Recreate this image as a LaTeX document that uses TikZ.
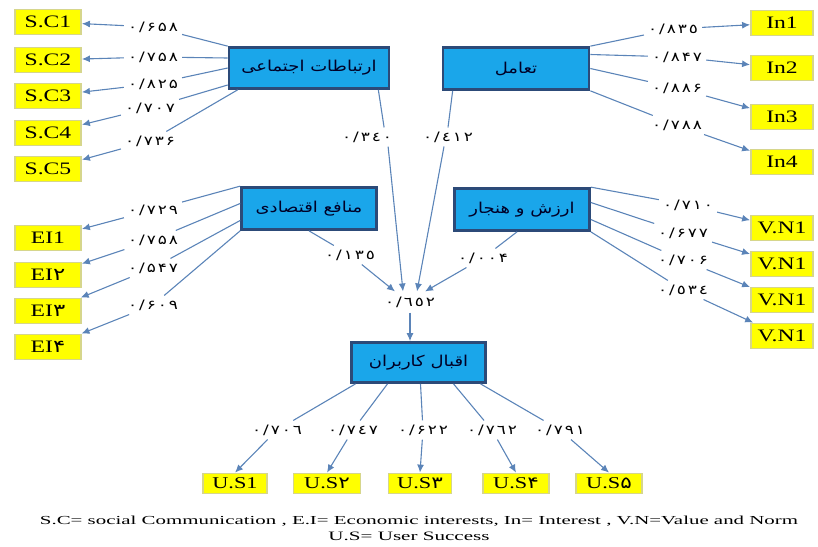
\documentclass[tikz,border=0pt]{standalone}
\usepackage{fontspec}
\usepackage{graphicx}
\setmainfont{Liberation Serif}
\TeXXeTstate=1
\newfontfamily\arabicfont[Script=Arabic,FakeStretch=1.2]{DejaVu Sans}
\newfontfamily\numfont[FakeStretch=1.3,LetterSpace=15]{DejaVu Sans}
\newfontfamily\digfont[FakeStretch=1.3]{DejaVu Sans}
\newfontfamily\boxfont[FakeStretch=1.35]{Liberation Serif}
\usetikzlibrary{arrows.meta}
\definecolor{boxblue}{HTML}{1AA6EA}
\definecolor{boxborder}{HTML}{2C4A78}
\definecolor{yel}{HTML}{FFFF00}
\definecolor{yelborder}{HTML}{D6D68C}
\definecolor{arrowblue}{HTML}{5B84B8}
\newcommand{\pd}[1]{{\digfont #1}}
\begin{document}
\begin{tikzpicture}[x=1pt,y=-1pt,
  latent/.style={draw=boxborder, fill=boxblue, line width=2.7pt, inner sep=0pt,
    font=\arabicfont\fontsize{15}{17}\selectfont, text=black!85!blue},
  ind/.style={draw=yelborder, fill=yel, line width=1.8pt, minimum width=66pt,
    minimum height=25pt, inner sep=0pt, font=\boxfont\fontsize{17.5}{19}\selectfont},
  usind/.style={ind, minimum height=20pt, font=\boxfont\fontsize{16.5}{18}\selectfont},
  lbl/.style={font=\numfont\fontsize{13}{15}\selectfont, inner sep=4pt},
  ln/.style={draw=arrowblue, line width=1.1pt},
  arr/.style={ln, -{Latex[length=8pt,width=7pt]}}]
\useasboundingbox (0,0) rectangle (818,546);

% latent boxes
\node[latent, minimum width=160pt, minimum height=41pt] (social) at (309,68) {\beginR ارتباطات اجتماعی\endR};
\node[latent, minimum width=146pt, minimum height=42pt] (inter) at (516,68.5) {\beginR تعامل\endR};
\node[latent, minimum width=135pt, minimum height=42pt] (econ) at (309,208.5) {\beginR منافع اقتصادی\endR};
\node[latent, minimum width=135pt, minimum height=42pt] (value) at (522,209.5) {\beginR ارزش و هنجار\endR};
\node[latent, minimum width=134pt, minimum height=40pt] (user) at (418.5,362.5) {\beginR اقبال کاربران\endR};

% indicators
\node[ind] (sc1) at (48,22) {S.C1};
\node[ind] (sc2) at (48,60) {S.C2};
\node[ind] (sc3) at (48,96) {S.C3};
\node[ind] (sc4) at (48,133) {S.C4};
\node[ind] (sc5) at (48,169) {S.C5};
\node[ind, minimum width=62pt] (in1) at (782,23) {In1};
\node[ind, minimum width=62pt] (in2) at (782,68) {In2};
\node[ind, minimum width=62pt] (in3) at (782,117) {In3};
\node[ind, minimum width=62pt] (in4) at (782,162) {In4};
\node[ind] (ei1) at (48,238) {EI1};
\node[ind] (ei2) at (48,275) {EI\pd{۲}};
\node[ind] (ei3) at (48,311) {EI\pd{۳}};
\node[ind] (ei4) at (48,347) {EI\pd{۴}};
\node[ind, minimum width=62pt] (vn1) at (782,228) {V.N1};
\node[ind, minimum width=62pt] (vn2) at (782,264) {V.N1};
\node[ind, minimum width=62pt] (vn3) at (782,300) {V.N1};
\node[ind, minimum width=62pt] (vn4) at (782,336) {V.N1};
\node[usind, minimum width=64pt] (us1) at (235,483.5) {U.S1};
\node[usind, minimum width=67pt] (us2) at (327,483.5) {U.S\pd{۲}};
\node[usind, minimum width=63pt] (us3) at (420,483.5) {U.S\pd{۳}};
\node[usind, minimum width=66pt] (us4) at (516,483.5) {U.S\pd{۴}};
\node[usind, minimum width=66pt] (us5) at (609,483.5) {U.S\pd{۵}};

% labels
\node[lbl] (a1) at (153,27) {۰/۶۵۸};
\node[lbl] (a2) at (153,57) {۰/۷۵۸};
\node[lbl] (a3) at (153,84) {۰/۸۲۵};
\node[lbl] (a4) at (150,108) {۰/۷۰۷};
\node[lbl] (a5) at (150,141) {۰/۷۳۶};
\node[lbl] (b1) at (673,29) {۰/۸۳٥};
\node[lbl] (b2) at (677,57) {۰/۸۴۷};
\node[lbl] (b3) at (677,88) {۰/۸۸۶};
\node[lbl] (b4) at (677,125) {۰/۷۸۸};
\node[lbl] (c1) at (153,210) {۰/۷۲۹};
\node[lbl] (c2) at (153,240) {۰/۷۵۸};
\node[lbl] (c3) at (153,268) {۰/۵۴۷};
\node[lbl] (c4) at (153,305) {۰/۶۰۹};
\node[lbl] (d1) at (688,205) {۰/۷۱۰};
\node[lbl] (d2) at (683,233) {۰/۶۷۷};
\node[lbl] (d3) at (683,260) {۰/۷۰۶};
\node[lbl] (d4) at (683,290) {٠/٥٣٤};
\node[lbl] (l340) at (367,137) {٠/٣٤٠};
\node[lbl] (l412) at (448,137) {٠/٤١٢};
\node[lbl] (l135) at (350,255) {٠/١٣٥};
\node[lbl] (l004) at (483,258) {۰/۰۰۴};
\node[lbl, inner sep=5pt] (c652) at (410,302) {٠/٦٥٢};
\node[lbl] (e1) at (277,430) {٠/٧٠٦};
\node[lbl] (e2) at (353,430) {٠/٧٤٧};
\node[lbl] (e3) at (423,430) {۰/۶۲۲};
\node[lbl] (e4) at (492,430) {٠/٧٦٢};
\node[lbl] (e5) at (560,430) {٠/٧٩١};

% social communication
\draw[ln] (social.north west) -- (a1);
\draw[arr] (a1) -- (sc1);
\draw[ln] ([yshift=10pt]social.west) -- (a2);
\draw[arr] (a2) -- (sc2);
\draw[ln] (social.west) -- (a3);
\draw[arr] (a3) -- (sc3);
\draw[ln] ([yshift=-17pt]social.west) -- (a4);
\draw[arr] (a4) -- (sc4);
\draw[ln] ([xshift=10pt]social.south west) -- (a5);
\draw[arr] (a5) -- (sc5);

% interaction
\draw[ln] (inter.north east) -- (b1);
\draw[arr] (b1) -- (in1);
\draw[ln] ([yshift=14pt]inter.east) -- (b2);
\draw[arr] (b2) -- (in2);
\draw[ln] (inter.east) -- (b3);
\draw[arr] (b3) -- (in3);
\draw[ln] (inter.south east) -- (b4);
\draw[arr] (b4) -- (in4);

% economic interests
\draw[ln] (econ.north west) -- (c1);
\draw[arr] (c1) -- (ei1);
\draw[ln] ([yshift=5pt]econ.west) -- (c2);
\draw[arr] (c2) -- (ei2);
\draw[ln] ([yshift=-12pt]econ.west) -- (c3);
\draw[arr] (c3) -- (ei3);
\draw[ln] (econ.south west) -- (c4);
\draw[arr] (c4) -- (ei4);

% value and norm
\draw[ln] (value.north east) -- (d1);
\draw[arr] (d1) -- (vn1);
\draw[ln] ([yshift=7pt]value.east) -- (d2);
\draw[arr] (d2) -- (vn2);
\draw[ln] ([yshift=-10pt]value.east) -- (d3);
\draw[arr] (d3) -- (vn3);
\draw[ln] (value.south east) -- (d4);
\draw[arr] (d4) -- (vn4);

% structural paths
\draw[ln] ([xshift=-12pt]social.south east) -- ([xshift=-12pt]l340.north east);
\draw[arr] ([xshift=-8pt]l340.south east) -- ([xshift=-7pt]c652.north);
\draw[ln] ([xshift=11pt]inter.south west) -- (l412.north);
\draw[arr] ([xshift=-4pt]l412.south) -- ([xshift=7pt]c652.north);
\draw[ln] (econ.south) -- (l135);
\draw[arr] (l135) -- ([xshift=-15pt]c652.north);
\draw[ln] ([xshift=-5pt]value.south) -- (l004);
\draw[arr] (l004) -- ([xshift=15pt]c652.north);
\draw[arr] (c652.south) -- (c652.south |- user.north);

% user success
\draw[ln] ([xshift=-63pt]user.south) -- (e1);
\draw[arr] (e1) -- (us1.north);
\draw[ln] ([xshift=-31pt]user.south) -- (e2);
\draw[arr] (e2) -- (us2.north);
\draw[ln] ([xshift=2pt]user.south) -- (e3);
\draw[arr] (e3) -- (us3.north);
\draw[ln] ([xshift=35pt]user.south) -- (e4);
\draw[arr] (e4) -- (us4.north);
\draw[ln] ([xshift=62pt]user.south) -- (e5);
\draw[arr] (e5) -- (us5.north);

% legend
\node[inner sep=0pt, anchor=base] (leg1) at (419,524)
  {\resizebox{758pt}{8.5pt}{S.C= social Communication , E.I= Economic interests, In= Interest , V.N=Value and Norm}};
\node[inner sep=0pt, anchor=base] (leg2) at (409,540)
  {\resizebox{161pt}{8.5pt}{U.S= User Success}};
\end{tikzpicture}
\end{document}
